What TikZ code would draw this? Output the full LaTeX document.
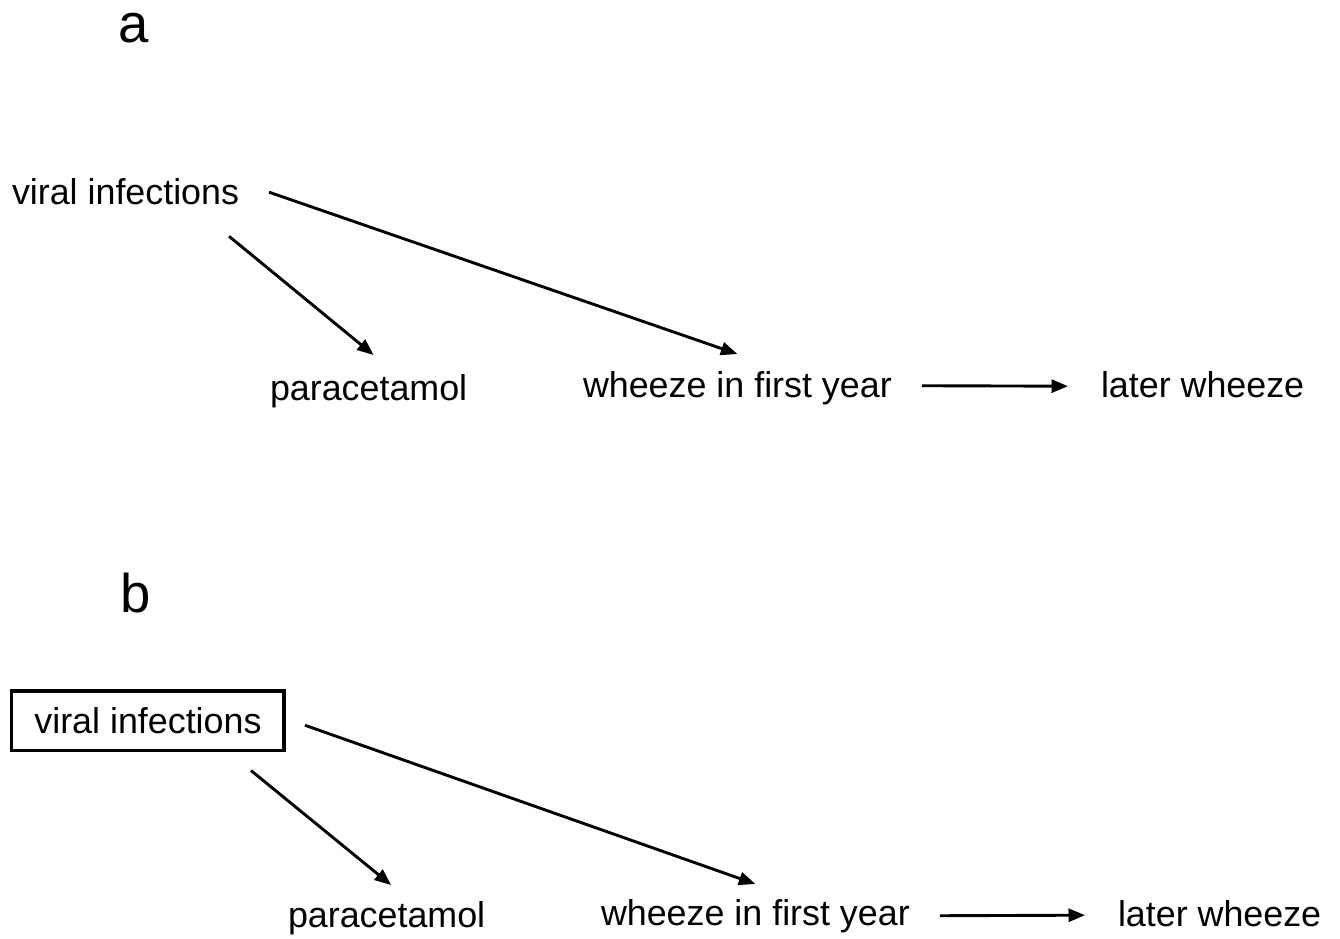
\documentclass[tikz,border=0pt]{standalone}
\usepackage{fontspec}
\setmainfont{Liberation Sans}
\usetikzlibrary{arrows.meta}
\begin{document}
\begin{tikzpicture}[x=0.02cm, y=-0.02cm,
  lbl/.style={font=\fontsize{20.4pt}{24pt}\selectfont, inner sep=0pt, outer sep=0pt},
  txt/.style={lbl, anchor=base west},
  panel/.style={font=\fontsize{31pt}{36pt}\selectfont, inner sep=0pt, anchor=base west},
  box/.style={lbl, draw, line width=0.07cm, minimum width=5.45cm, minimum height=1.2cm, anchor=north west, outer sep=0.035cm},
  link/.style={line width=0.058cm, -{Triangle[length=0.33cm, width=0.26cm]}}]
\useasboundingbox (0,0) rectangle (1340,939);

% panel a
\node[panel] (pa) at (118,43) {a};
\node[txt] (via)  at (12,205)   {viral infections};
\node[txt] (para) at (270,400)  {paracetamol};
\node[txt] (wfya) at (583,398)  {wheeze in first year};
\node[txt] (lwa)  at (1101,398) {later wheeze};

\draw[link] ([xshift=0.6cm]via.east) -- ([yshift=0.36cm]wfya.north);
\draw[link] ([xshift=-0.2cm, yshift=-0.62cm]via.south east) -- ([xshift=0.1cm, yshift=0.38cm]para.north);
\draw[link] ([xshift=0.6cm, yshift=0.06cm]wfya.east) -- ([xshift=-0.66cm, yshift=-0.02cm]lwa.west);

% panel b
\node[panel] (pb) at (120,612) {b};
\node[box]  (vib)  at (10,689)   {viral infections\hspace{0.3cm}};
\node[txt] (parb) at (288,927)  {paracetamol};
\node[txt] (wfyb) at (601,925)  {wheeze in first year};
\node[txt] (lwb)  at (1118,926) {later wheeze};

\draw[link] ([xshift=0.38cm, yshift=-0.09cm]vib.east) -- ([yshift=0.3cm]wfyb.north);
\draw[link] ([xshift=-0.7cm, yshift=-0.36cm]vib.south east) -- ([xshift=0.09cm, yshift=0.32cm]parb.north);
\draw[link] ([xshift=0.6cm]wfyb.east) -- ([xshift=-0.66cm, yshift=-0.04cm]lwb.west);
\end{tikzpicture}
\end{document}
